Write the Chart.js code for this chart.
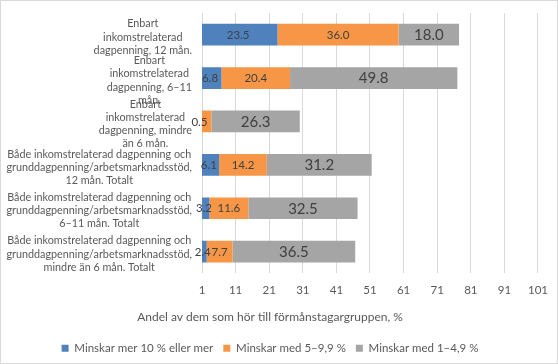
<!DOCTYPE html>
<html>
<head>
<meta charset="utf-8">
<script src="https://cdn.jsdelivr.net/npm/chart.js@4.4.1/dist/chart.umd.min.js"></script>
<style>
html,body{margin:0;padding:0;background:#fff;}
#wrap{width:558px;height:364px;position:relative;}
</style>
</head>
<body>
<div id="wrap"><canvas id="c" width="558" height="364"></canvas></div>
<script>
const categories = [
  ["Enbart", "inkomstrelaterad", "dagpenning, 12 mån."],
  ["Enbart", "inkomstrelaterad", "dagpenning, 6–11", "mån."],
  ["Enbart", "inkomstrelaterad", "dagpenning, mindre", "än 6 mån."],
  ["Både inkomstrelaterad dagpenning och", "grunddagpenning/arbetsmarknadsstöd,", "12 mån. Totalt"],
  ["Både inkomstrelaterad dagpenning och", "grunddagpenning/arbetsmarknadsstöd,", "6–11 mån. Totalt"],
  ["Både inkomstrelaterad dagpenning och", "grunddagpenning/arbetsmarknadsstöd,", "mindre än 6 mån. Totalt"]
];
const seriesNames = ["Minskar mer 10 % eller mer", "Minskar med 5–9,9 %", "Minskar med 1–4,9 %"];
const over10 = [23.5, 6.8, 0.5, 6.1, 3.2, 2.4];
const from5to10 = [36.0, 20.4, 3.3, 14.2, 11.6, 7.7];
const from1to5 = [18.0, 49.8, 26.3, 31.2, 32.5, 36.5];
const hiddenLabels = ["1:2"]; // series:category label not shown in the original
const xTicks = [1, 11, 21, 31, 41, 51, 61, 71, 81, 91, 101];
const axisTitle = "Andel av dem som hör till förmånstagargruppen, %";

const FONT = "Lato";
const colors = ["#4f81bd", "#f79646", "#a5a5a5"];

const borderPlugin = {
  id: 'outerBorder',
  beforeDraw(chart) {
    const ctx = chart.ctx;
    ctx.save();
    ctx.fillStyle = '#fff';
    ctx.fillRect(0, 0, chart.width, chart.height);
    ctx.strokeStyle = '#d9d9d9';
    ctx.lineWidth = 1;
    ctx.strokeRect(0.5, 0.5, chart.width - 1, chart.height - 1);
    ctx.restore();
  }
};

const yLabelPlugin = {
  id: 'yLabels',
  afterDraw(chart) {
    const ctx = chart.ctx;
    const ys = chart.scales.y;
    ctx.save();
    ctx.font = "10.8px " + FONT;
    ctx.fillStyle = '#595959';
    ctx.textAlign = 'center';
    ctx.textBaseline = 'middle';
    const lh = 13.2;
    const rightEdge = 192;
    categories.forEach((lines, i) => {
      const yc = ys.getPixelForValue(i);
      let w = 0;
      lines.forEach(l => { w = Math.max(w, ctx.measureText(l).width); });
      const cx = rightEdge - w / 2;
      lines.forEach((l, k) => {
        ctx.fillText(l, cx, yc + 2.5 - (lines.length - 1) / 2 * lh + k * lh);
      });
    });
    ctx.restore();
  }
};

const dataLabelPlugin = {
  id: 'dataLabels',
  afterDatasetsDraw(chart) {
    const ctx = chart.ctx;
    ctx.save();
    ctx.textAlign = 'center';
    ctx.textBaseline = 'middle';
    ctx.fillStyle = '#404040';
    chart.data.datasets.forEach((ds, di) => {
      const meta = chart.getDatasetMeta(di);
      ctx.font = (di === 2 ? "15px " : "11.5px ") + FONT;
      meta.data.forEach((el, i) => {
        if (hiddenLabels.includes(di + ":" + i)) return;
        const v = ds.data[i];
        const cx = (el.x + el.base) / 2;
        ctx.fillText(v.toFixed(1), cx, el.y + 0.5);
      });
    });
    ctx.restore();
  }
};

new Chart(document.getElementById('c'), {
  type: 'bar',
  data: {
    labels: categories.map(c => c.join(' ')),
    datasets: [
      { label: seriesNames[0], data: over10, backgroundColor: colors[0] },
      { label: seriesNames[1], data: from5to10, backgroundColor: colors[1] },
      { label: seriesNames[2], data: from1to5, backgroundColor: colors[2] }
    ]
  },
  options: {
    indexAxis: 'y',
    responsive: false,
    animation: false,
    devicePixelRatio: 1,
    layout: { padding: { left: 0, right: 18, top: 13, bottom: 0 } },
    datasets: { bar: { barPercentage: 0.5, categoryPercentage: 1.0 } },
    scales: {
      x: {
        stacked: true,
        min: 1,
        max: 101,
        afterBuildTicks(s) { s.ticks = xTicks.map(v => ({ value: v })); },
        grid: { color: '#d9d9d9', drawTicks: false },
        border: { display: false },
        ticks: { color: '#595959', font: { family: FONT, size: 11.5 }, padding: 10, maxRotation: 0, autoSkip: false }
      },
      y: {
        stacked: true,
        grid: { display: false },
        border: { display: false },
        ticks: { display: false },
        afterFit(s) { s.width = 202; }
      }
    },
    plugins: {
      title: {
        display: true,
        text: axisTitle,
        position: 'bottom',
        weight: 500,
        color: '#595959',
        font: { family: FONT, size: 12, weight: 'normal' },
        padding: { top: 3, bottom: 8 }
      },
      legend: {
        position: 'bottom',
        labels: {
          boxWidth: 7,
          boxHeight: 7,
          padding: 10,
          color: '#595959',
          font: { family: FONT, size: 11.5 }
        }
      },
      tooltip: { enabled: false }
    }
  },
  plugins: [borderPlugin, yLabelPlugin, dataLabelPlugin]
});
</script>
</body>
</html>
